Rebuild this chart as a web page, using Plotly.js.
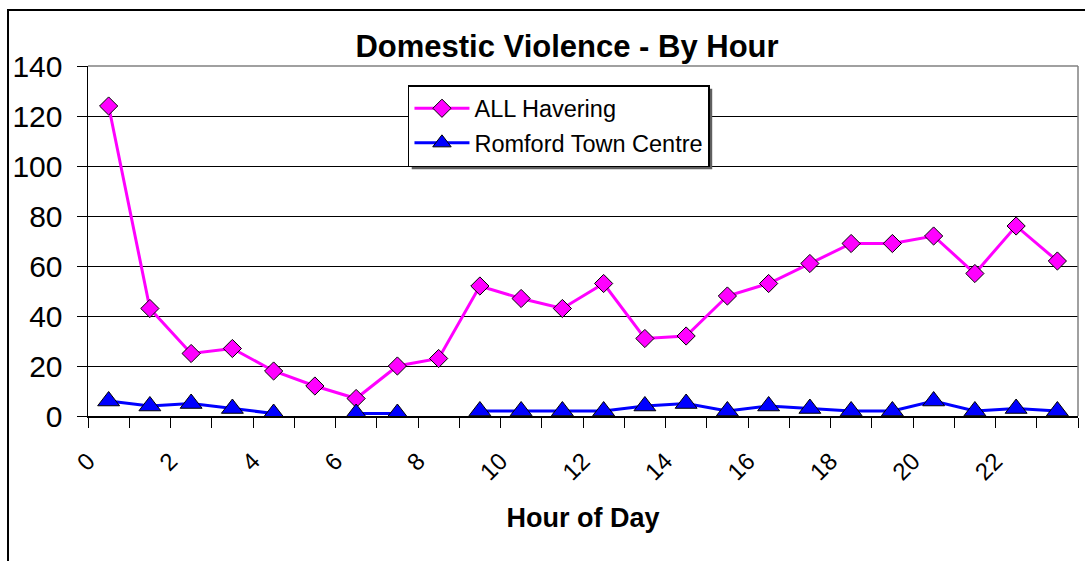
<!DOCTYPE html>
<html>
<head>
<meta charset="utf-8">
<script src="https://cdn.plot.ly/plotly-3.0.1.min.js"></script>
<style>
  html, body { margin: 0; padding: 0; background: #ffffff; }
  #chart { width: 1085px; height: 561px; }
</style>
</head>
<body>
<div id="chart"></div>
<script>
// ---- data ----
const hours = [0,1,2,3,4,5,6,7,8,9,10,11,12,13,14,15,16,17,18,19,20,21,22,23];
const allHavering = [124,43,25,27,18,12,7,20,23,52,47,43,53,31,32,48,53,61,69,69,72,57,76,62];
const romfordTownCentre = [6,4,5,3,1,null,1,1,null,2,2,2,2,4,5,2,4,3,2,2,6,2,3,2];
const hourTickLabels = ['0','2','4','6','8','10','12','14','16','18','20','22'];
const seriesNames = ['ALL Havering', 'Romford Town Centre'];
const chartTitle = 'Domestic Violence - By Hour';
const xTitle = 'Hour of Day';

// points sit in the middle of each hour slot
const xPos = hours.map(h => h + 0.5);
// a tick at every hour boundary, labels on the even hours
const tickVals = [];
const tickText = [];
for (let h = 0; h <= 24; h++) {
  tickVals.push(h);
  const lbl = hourTickLabels.indexOf(String(h));
  tickText.push(lbl >= 0 ? hourTickLabels[lbl] : '');
}

const FONT = 'Arial, "Liberation Sans", sans-serif';

const traces = [
  {
    x: xPos, y: allHavering, name: seriesNames[0], type: 'scatter', mode: 'lines+markers',
    legendgroup: 'a',
    line: { color: '#FF00FF', width: 3 },
    marker: { symbol: 'diamond', size: 14, color: '#FF00FF', line: { color: '#000000', width: 1 } },
    connectgaps: false
  },
  {
    x: xPos, y: romfordTownCentre, name: seriesNames[1], type: 'scatter', mode: 'lines+markers',
    legendgroup: 'b',
    line: { color: '#0000FF', width: 3 },
    marker: { symbol: 'triangle-up', size: 19, color: '#0000FF', line: { color: '#000000', width: 1 } },
    connectgaps: false
  }
];

const layout = {
  width: 1085, height: 561,
  paper_bgcolor: '#ffffff', plot_bgcolor: '#ffffff',
  margin: { l: 88, r: 7, t: 66, b: 145 },
  font: { family: FONT, color: '#000000' },
  title: {
    text: '<b>' + chartTitle + '</b>',
    font: { family: FONT, size: 31, color: '#000000' },
    xref: 'container', yref: 'container',
    x: 0.5226, xanchor: 'center', y: 0.918, yanchor: 'middle'
  },
  xaxis: {
    type: 'linear', range: [0, 24],
    tickmode: 'array', tickvals: tickVals, ticktext: tickText,
    tickangle: -45,
    ticks: 'outside', ticklen: 10, tickwidth: 1, tickcolor: '#000000',
    tickfont: { family: FONT, size: 24, color: '#000000' },
    ticklabelstandoff: 10,
    showgrid: false, zeroline: false,
    showline: true, linecolor: '#000000', linewidth: 1.5,
    title: { text: '<b>' + xTitle + '</b>', font: { family: FONT, size: 27, color: '#000000' }, standoff: 24 }
  },
  yaxis: {
    range: [0, 140], dtick: 20, tick0: 0,
    ticks: 'outside', ticklen: 10, tickwidth: 1, tickcolor: '#000000',
    tickfont: { family: FONT, size: 30, color: '#000000' },
    ticklabelstandoff: 8,
    showgrid: true, gridcolor: '#000000', gridwidth: 1,
    zeroline: false,
    showline: true, linecolor: '#000000', linewidth: 1.5
  },
  legend: {
    x: 0.3232, y: 0.9457, xanchor: 'left', yanchor: 'top',
    bgcolor: '#ffffff', bordercolor: '#000000', borderwidth: 1.5,
    font: { family: FONT, size: 23.5, color: '#000000' },
    itemwidth: 55, tracegroupgap: 1
  },
  shapes: [
    // outer chart frame (cropped at right/bottom in the reference)
    { type: 'rect', xref: 'paper', yref: 'paper', x0: -0.0808, x1: 1.03, y0: -0.5, y1: 1.16,
      line: { color: '#000000', width: 2 }, fillcolor: 'rgba(0,0,0,0)', layer: 'below' },
    // plot area border (top & right)
    { type: 'line', xref: 'paper', yref: 'paper', x0: 0, x1: 1, y0: 1, y1: 1,
      line: { color: '#808080', width: 1.5 } },
    { type: 'line', xref: 'paper', yref: 'paper', x0: 1, x1: 1, y0: 0, y1: 1,
      line: { color: '#808080', width: 1.5 } }
  ],
  showlegend: true
};

Plotly.newPlot('chart', traces, layout, { displayModeBar: false, staticPlot: true }).then(function (gd) {
  // legend drop shadow, sized from the rendered legend box
  const bg = gd.querySelector('.legend .bg');
  if (!bg) return;
  const r = bg.getBoundingClientRect();
  const c = gd.querySelector('.main-svg').getBoundingClientRect();
  const fs = gd._fullLayout._size;
  const px = v => (v - c.left - fs.l) / fs.w;
  const py = v => 1 - (v - c.top - fs.t) / fs.h;
  const off = 3;
  const shadow = { type: 'rect', xref: 'paper', yref: 'paper',
    x0: px(r.left + off), x1: px(r.right + off), y0: py(r.bottom + off), y1: py(r.top + off),
    line: { width: 0 }, fillcolor: '#606060', layer: 'above' };
  Plotly.relayout(gd, { shapes: gd.layout.shapes.concat([shadow]) });
});
</script>
</body>
</html>
